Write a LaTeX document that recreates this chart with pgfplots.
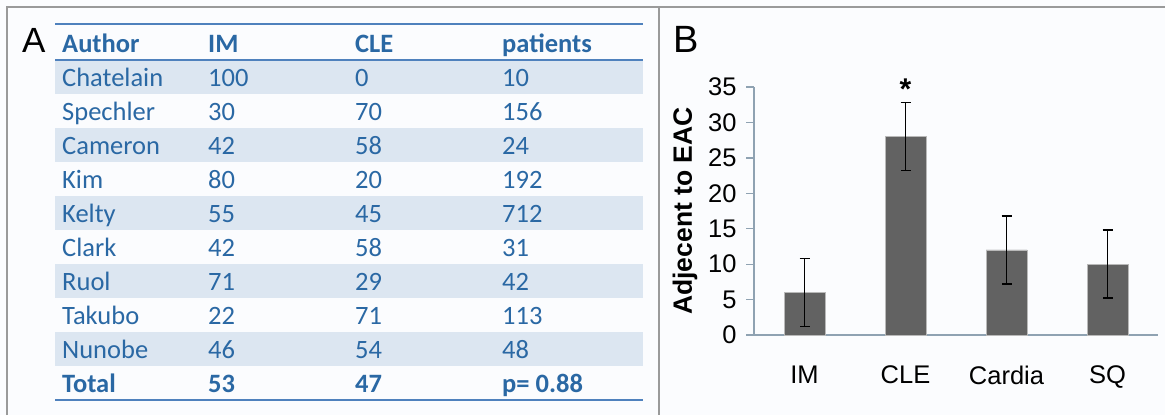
\documentclass[border=0pt]{standalone}
\usepackage{pgfplots}
\pgfplotsset{compat=1.18}
\usepackage{fontspec}
\setmainfont{Liberation Sans}
\newfontfamily\carlito{Carlito}
\definecolor{tblue}{HTML}{2A68A4}
\definecolor{band}{HTML}{DCE6F1}
\definecolor{rulec}{HTML}{4F81BD}
\definecolor{bg}{HTML}{FBFCFE}
\definecolor{framec}{HTML}{9A9A9A}
\definecolor{axisc}{HTML}{8FA2B2}
\definecolor{barc}{HTML}{626262}
\newcommand\tfont{\carlito\fontsize{26.5bp}{30bp}\selectfont}
\begin{document}
\begin{tikzpicture}[x=1bp,y=-1bp]
\fill[bg] (0,0) rectangle (1165,415);
\useasboundingbox (0,0) rectangle (1165,415);
\draw[framec, line width=2bp] (7,415) -- (7,7) -- (1165,7);
\draw[framec, line width=2bp] (659,7) -- (659,415);
% table bands
\foreach \r in {0,2,4,6,8} \fill[band] (55,60+34*\r) rectangle (643,94+34*\r);
\draw[rulec, line width=2bp] (55,24) -- (643,24);
\draw[rulec, line width=2bp] (55,60) -- (643,60);
\draw[rulec, line width=2bp] (55,400) -- (643,400);
% panel letters
\node[anchor=base west, inner sep=0, font=\fontsize{35bp}{40bp}\selectfont] at (22,52) {A};
\node[anchor=base west, inner sep=0, font=\fontsize{38bp}{40bp}\selectfont] at (673,52) {B};
% header
\foreach \t/\x in {Author/62, IM/208, CLE/355, patients/502}
  \node[anchor=base west, inner sep=0, text=tblue, font=\tfont\bfseries] at (\x,52) {\t};
% rows
\foreach \a/\b/\c/\d [count=\i] in {Chatelain/100/0/10, Spechler/30/70/156, Cameron/42/58/24, Kim/80/20/192, Kelty/55/45/712, Clark/42/58/31, Ruol/71/29/42, Takubo/22/71/113, Nunobe/46/54/48}{
  \node[anchor=base west, inner sep=0, text=tblue, font=\tfont] at (62,52+34*\i) {\a};
  \node[anchor=base west, inner sep=0, text=tblue, font=\tfont] at (208,52+34*\i) {\b};
  \node[anchor=base west, inner sep=0, text=tblue, font=\tfont] at (355,52+34*\i) {\c};
  \node[anchor=base west, inner sep=0, text=tblue, font=\tfont] at (502,52+34*\i) {\d};
}
\foreach \t/\x in {Total/62, 53/208, 47/355, {p= 0.88}/502}
  \node[anchor=base west, inner sep=0, text=tblue, font=\tfont\bfseries] at (\x,392) {\t};
% bar chart
\begin{axis}[
  at={(754bp,-335bp)}, anchor=south west,
  scale only axis, width=404bp, height=248bp,
  xmin=0, xmax=4, ymin=0, ymax=35,
  clip=false,
  ybar, bar width=41bp,
  axis x line*=bottom, axis y line*=left,
  axis line style={draw=axisc, line width=1.3bp, -},
  ytick={0,5,...,35},
  tick align=outside,
  major tick length=8bp, minor tick length=9bp,
  ytick style={draw=axisc, line width=1.3bp},
  xtick={0.5,1.5,2.5,3.5}, xticklabels={IM,CLE,Cardia,SQ},
  xtick style={draw=none},
  minor xtick={0,1,2,3,4},
  minor tick style={draw=axisc, line width=1.3bp},
  /pgf/number format/assume math mode=true,
  yticklabel style={font=\fontsize{25.5bp}{30bp}\selectfont, xshift=-6bp},
  xticklabel style={font=\fontsize{25.5bp}{30bp}\selectfont, yshift=-19bp},
  ylabel={Adjecent to EAC},
  ylabel style={font=\bfseries\fontsize{26.5bp}{30bp}\selectfont, at={(axis description cs:-0.171,0.5)}, anchor=center},
]
\addplot[fill=barc, draw=gray!55, error bars/.cd, y dir=both, y explicit,
  error bar style={black, line width=1.4bp},
  error mark options={rotate=90, mark size=5bp, black, line width=1.4bp}]
  coordinates {(0.5,6) +- (0,4.8) (1.5,28) +- (0,4.8) (2.5,12) +- (0,4.8) (3.5,10) +- (0,4.8)};
\node[anchor=north, inner sep=0, font=\bfseries\fontsize{30bp}{34bp}\selectfont] at (axis cs:1.5,36.2) {*};
\end{axis}
\end{tikzpicture}
\end{document}
